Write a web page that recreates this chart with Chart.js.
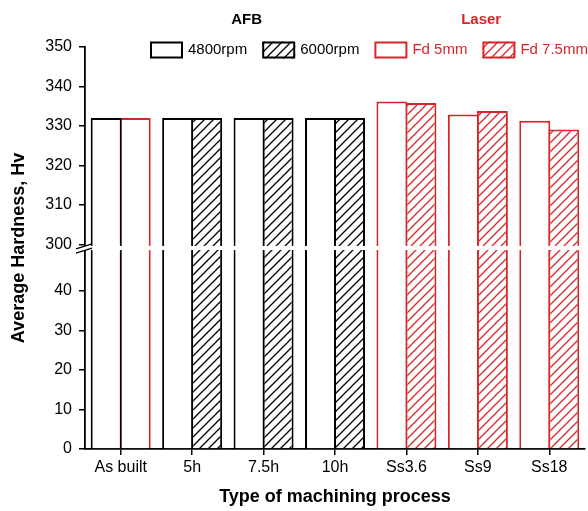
<!DOCTYPE html>
<html>
<head>
<meta charset="utf-8">
<script src="https://cdn.jsdelivr.net/npm/chart.js@4"></script>
<style>
  body { margin: 0; background: #fff; }
  #wrap { width: 588px; height: 511px; }
</style>
</head>
<body>
<div id="wrap"><canvas id="c"></canvas></div>
<script>
// data
const categories = ['As built', '5h', '7.5h', '10h', 'Ss3.6', 'Ss9', 'Ss18'];
const afb4800 = [332, 332, 332, 332, null, null, null];
const afb6000 = [null, 332, 332, 332, null, null, null];
const laserFd5 = [332, null, null, null, 336.2, 332.9, 331.3];
const laserFd75 = [null, null, null, null, 335.8, 333.8, 329.1];
const yTickValues = [0, 10, 20, 30, 40, 300, 310, 320, 330, 340, 350];

// broken axis: 0..50 then 300..350
const lowMax = 50, highMin = 300, gap = 1.8;
const toDisplay = v => v == null ? null : (v <= lowMax ? v : v - highMin + lowMax + gap);
const toReal = d => d <= lowMax ? d : d - lowMax - gap + highMin;

const RED = '#d7262b';
const FONT = '"Liberation Sans", Arial, sans-serif';
Chart.defaults.font.family = FONT;
Chart.defaults.color = '#000';

const canvas = document.getElementById('c');
const cctx = canvas.getContext('2d');

function hatch(color) {
  const s = 9;
  const t = document.createElement('canvas');
  t.width = s; t.height = s;
  const g = t.getContext('2d');
  g.fillStyle = '#fff';
  g.fillRect(0, 0, s, s);
  g.strokeStyle = color;
  g.lineWidth = 1.3;
  g.beginPath();
  g.moveTo(-1, s + 1); g.lineTo(s + 1, -1);
  g.moveTo(-2, 2); g.lineTo(2, -2);
  g.moveTo(s - 2, s + 2); g.lineTo(s + 2, s - 2);
  g.stroke();
  return cctx.createPattern(t, 'repeat');
}

const breakPlugin = {
  id: 'axisBreak',
  afterDraw(chart) {
    const y = chart.scales.y, ctx = chart.ctx;
    const ax = chart.chartArea.left;
    const yTop = y.getPixelForValue(lowMax + gap);
    const yBot = y.getPixelForValue(lowMax);
    ctx.save();
    ctx.fillStyle = '#fff';
    ctx.fillRect(ax - 3, yTop + 1.5, chart.chartArea.right - ax + 6, yBot - yTop - 3);
    ctx.strokeStyle = '#000';
    ctx.lineWidth = 1.3;
    [yTop + 1.5, yBot - 1.5].forEach(yy => {
      ctx.beginPath();
      ctx.moveTo(ax - 9, yy + 3);
      ctx.lineTo(ax + 7, yy - 2);
      ctx.stroke();
    });
    ctx.restore();
  }
};

const legendPlugin = {
  id: 'groupLegend',
  afterDraw(chart) {
    const ctx = chart.ctx;
    const bw = 33, bh = 17, y = 50;
    let x = 150;
    const groups = {};
    ctx.save();
    ctx.font = '15px ' + FONT;
    ctx.textBaseline = 'middle';
    chart.data.datasets.forEach(ds => {
      const start = x;
      ctx.fillStyle = ds.backgroundColor;
      ctx.fillRect(x, y - bh / 2, bw, bh);
      ctx.strokeStyle = ds.borderColor;
      ctx.lineWidth = 2;
      ctx.strokeRect(x + 1, y - bh / 2 + 1, bw - 2, bh - 2);
      ctx.fillStyle = ds.borderColor;
      ctx.fillText(ds.label, x + bw + 5, y);
      const w = ctx.measureText(ds.label).width;
      x += bw + 5 + w;
      const g = groups[ds.group] || (groups[ds.group] = { a: start, b: x, color: ds.borderColor });
      g.b = x;
      x += 15;
    });
    ctx.font = 'bold 15px ' + FONT;
    ctx.textAlign = 'center';
    Object.keys(groups).forEach(name => {
      const g = groups[name];
      ctx.fillStyle = g.color;
      ctx.fillText(name, (g.a + g.b) / 2 - (name === 'AFB' ? 8 : 0), 20);
    });
    ctx.restore();
  }
};

function bars(label, group, values, color, hatched) {
  return {
    label: label,
    group: group,
    data: values.map(toDisplay),
    backgroundColor: hatched ? hatch(color) : '#fff',
    borderColor: color,
    borderWidth: 2,
    skipNull: true
  };
}

new Chart(canvas, {
  type: 'bar',
  data: {
    labels: categories,
    datasets: [
      bars('4800rpm', 'AFB', afb4800, '#000', false),
      bars('6000rpm', 'AFB', afb6000, '#000', true),
      bars('Fd 5mm', 'Laser', laserFd5, RED, false),
      bars('Fd 7.5mm', 'Laser', laserFd75, RED, true)
    ]
  },
  options: {
    responsive: true,
    maintainAspectRatio: false,
    animation: false,
    layout: { padding: { top: 47, right: 3, left: 0, bottom: 0 } },
    categoryPercentage: 0.812,
    barPercentage: 1.069,
    plugins: { legend: { display: false }, tooltip: { enabled: false } },
    scales: {
      x: {
        grid: { display: true, drawOnChartArea: false, offset: false, color: '#000', lineWidth: 1.5, tickLength: 6 },
        border: { color: '#000', width: 1.8 },
        ticks: { font: { size: 16 }, padding: 3, maxRotation: 0 },
        title: { display: true, text: 'Type of machining process', font: { size: 18, weight: 'bold' }, padding: { top: 0, bottom: 3 } },
        afterFit(scale) { scale.height = 62; }
      },
      y: {
        min: 0,
        max: toDisplay(350),
        grid: { display: true, drawOnChartArea: false, color: '#000', lineWidth: 1.5, tickLength: 6 },
        border: { color: '#000', width: 1.8 },
        ticks: { font: { size: 16 }, padding: 7, callback: v => String(Math.round(toReal(v))) },
        afterBuildTicks(scale) { scale.ticks = yTickValues.map(v => ({ value: toDisplay(v) })); },
        title: { display: true, text: 'Average Hardness, Hv', font: { size: 18, weight: 'bold' }, padding: { top: 8, bottom: 0 } },
        afterFit(scale) { scale.width = 85; }
      }
    }
  },
  plugins: [breakPlugin, legendPlugin]
});
</script>
</body>
</html>
